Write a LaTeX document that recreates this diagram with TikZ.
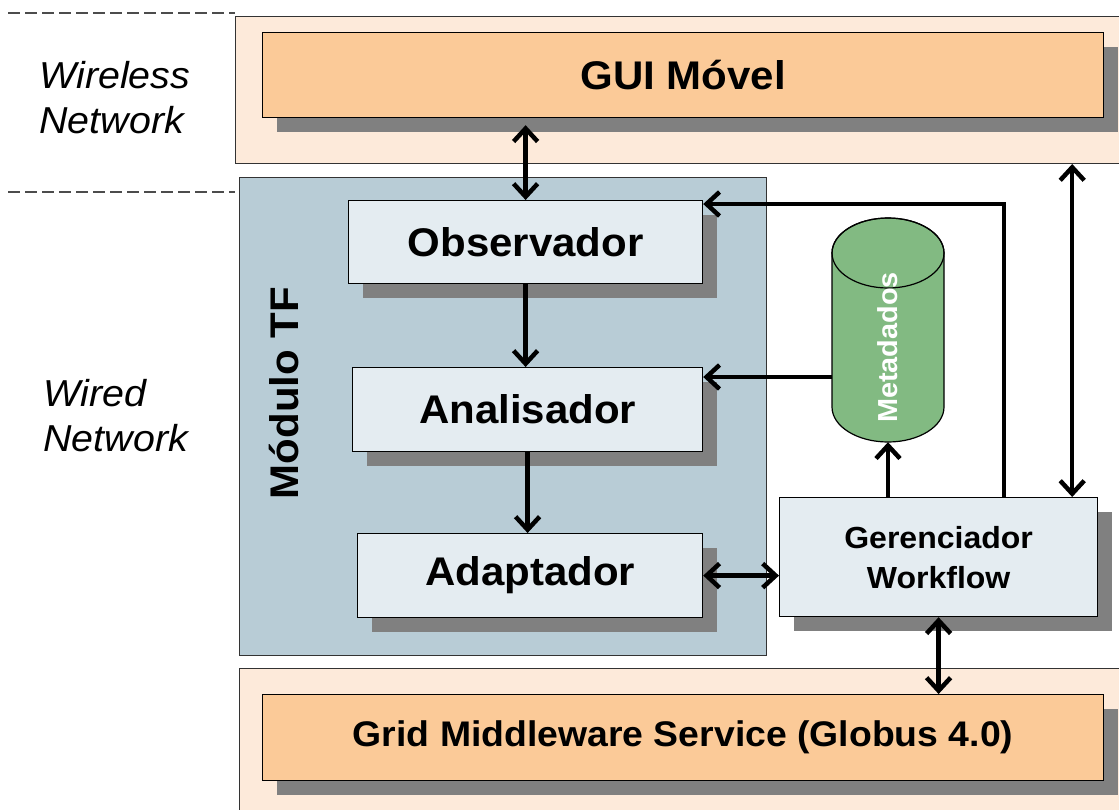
\documentclass[tikz,border=0pt]{standalone}
\usepackage{fontspec}
\setmainfont{Liberation Sans}[FakeStretch=1.05]
\usepackage{graphicx}
\usepackage{tikz}
\usetikzlibrary{
  arrows.meta,
  shadows,
  calc}

\definecolor{zonefill}{HTML}{FDEADA}
\definecolor{guifill}{HTML}{FBCA98}
\definecolor{modfill}{HTML}{B8CCD6}
\definecolor{boxfill}{HTML}{E4ECF1}
\definecolor{metafill}{HTML}{82BA82}
\definecolor{shadowgray}{HTML}{808080}

\tikzset{
  zone/.style={draw=black!80, fill=zonefill, line width=1pt, anchor=north west, inner sep=0pt},
  part/.style={draw=black, line width=1.2pt, anchor=north west, inner sep=0pt,
    drop shadow={shadow xshift=14pt, shadow yshift=-14pt, fill=shadowgray, opacity=1}},
  layer/.style={part, fill=guifill, font=\fontsize{40}{48}\selectfont\bfseries},
  stage/.style={part, fill=boxfill, font=\fontsize{40}{48}\selectfont\bfseries},
  net/.style={anchor=west, align=left, font=\fontsize{37.5}{45}\selectfont\itshape},
  sep/.style={draw=black!70, line width=1.2pt, dash pattern=on 12pt off 5pt},
  can/.style={draw=black, line width=1.2pt, fill=metafill},
  tip/.tip={Straight Barb[length=13pt,width=24pt,line width=4.5pt]},
  arr/.style={line width=4.5pt, -tip},
  dbl/.style={line width=4.5pt, tip-tip},
}

\begin{document}
\begin{tikzpicture}[x=1pt,y=-1pt]
\useasboundingbox[fill=white] (0,0) rectangle (1119,809);

% the two networks
\draw[sep] (8,13) -- (235,13);
\draw[sep] (8,192) -- (235,192);
\node[net] (wless) at (36,98) {Wireless\\Network};
\node[net] (wired) at (40,416) {Wired\\Network};

\node[zone, minimum width=890pt, minimum height=147pt] (topzone) at (235,16) {};
\node[zone, minimum width=890pt, minimum height=150pt] (botzone) at (239,668) {};
\node[draw=black!80, fill=modfill, line width=1pt, anchor=north west, inner sep=0pt,
  minimum width=527pt, minimum height=478pt] (modulo) at (239,177) {};
\node[rotate=90, font=\fontsize{40}{48}\selectfont\bfseries] (modname) at (284,393) {Módulo TF};

\node[layer, minimum width=841pt, minimum height=85pt] (gui) at (262,32) {GUI Móvel};
\node[layer, minimum width=841pt, minimum height=86pt,
  font=\fontsize{35.6}{43}\selectfont\bfseries] (grid) at (262,694) {Grid Middleware Service (Globus 4.0)};

\node[stage, minimum width=354pt, minimum height=83pt] (obs) at (348,200) {Observador};
\node[stage, minimum width=350pt, minimum height=84pt] (ana) at (352,367) {Analisador};
\node[stage, minimum width=345pt, minimum height=84pt] (ada) at (357,533) {Adaptador};
\node[stage, minimum width=318pt, minimum height=119pt, align=center,
  font=\fontsize{30.5}{40}\selectfont\bfseries] (gerente) at (779,497) {Gerenciador\\Workflow};

% metadata store
\coordinate (mtop) at (888,253);
\draw[can] ($(mtop)+(-56,0)$) -- ++(0,154)
  arc[start angle=180, end angle=360, x radius=56pt, y radius=35pt] -- ++(0,-154)
  arc[start angle=0, end angle=180, x radius=56pt, y radius=35pt] -- cycle;
\draw[line width=1.2pt] (mtop) ellipse[x radius=56pt, y radius=35pt];
\node[minimum width=112pt, minimum height=189pt, inner sep=0pt, text=white,
  font=\fontsize{27.5}{33}\selectfont\bfseries] (meta) at ($(mtop)+(0,94.5)$) {\rotatebox{90}{Metadados}};

% connectors
\coordinate (obsin) at ($(obs.north east)+(0,4)$);
\coordinate (anain) at ($(ana.north east)+(0,10)$);
\coordinate (feed) at ($(gerente.north west)+(225,0)$);
\coordinate (link) at ($(gerente.north east)+(-26,0)$);

\draw[dbl] ($(gui.south -| obs.north)+(0,7)$) -- (obs.north);
\draw[arr] (obs.south) -- (obs.south |- ana.north);
\draw[arr] (ana.south) -- (ana.south |- ada.north);
\draw[arr] (feed) |- (obsin);
\draw[arr] (meta.west |- anain) -- (anain);
\draw[arr] (gerente.north -| meta.south) -- (meta.south);
\draw[dbl] (topzone.south -| link) -- (link);
\draw[dbl] (ada.east) -- (gerente.west |- ada.east);
\draw[dbl] (gerente.south) -- (gerente.south |- grid.north);
\end{tikzpicture}
\end{document}
